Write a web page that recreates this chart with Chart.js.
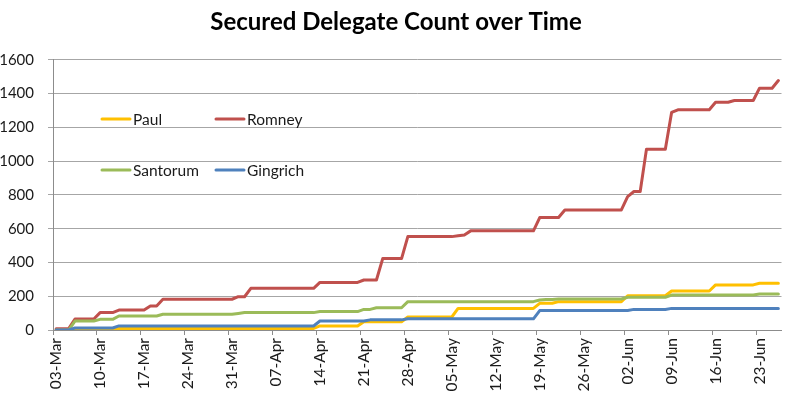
<!DOCTYPE html>
<html>
<head>
<meta charset="utf-8">
<script src="https://cdn.jsdelivr.net/npm/chart.js@4.4.1/dist/chart.umd.min.js"></script>
<style>
  html, body { margin: 0; padding: 0; background: #ffffff; }
  #wrap { width: 800px; height: 400px; }
</style>
</head>
<body>
<div id="wrap"><canvas id="c" width="800" height="400"></canvas></div>
<script>
// ---- DATA ----
const chartTitle = 'Secured Delegate Count over Time';

// Daily categories 03-Mar .. 26-Jun (one label per day)
const dates = [
  '03-Mar','04-Mar','05-Mar','06-Mar','07-Mar','08-Mar','09-Mar','10-Mar','11-Mar','12-Mar',
  '13-Mar','14-Mar','15-Mar','16-Mar','17-Mar','18-Mar','19-Mar','20-Mar','21-Mar','22-Mar',
  '23-Mar','24-Mar','25-Mar','26-Mar','27-Mar','28-Mar','29-Mar','30-Mar','31-Mar','01-Apr',
  '02-Apr','03-Apr','04-Apr','05-Apr','06-Apr','07-Apr','08-Apr','09-Apr','10-Apr','11-Apr',
  '12-Apr','13-Apr','14-Apr','15-Apr','16-Apr','17-Apr','18-Apr','19-Apr','20-Apr','21-Apr',
  '22-Apr','23-Apr','24-Apr','25-Apr','26-Apr','27-Apr','28-Apr','29-Apr','30-Apr','01-May',
  '02-May','03-May','04-May','05-May','06-May','07-May','08-May','09-May','10-May','11-May',
  '12-May','13-May','14-May','15-May','16-May','17-May','18-May','19-May','20-May','21-May',
  '22-May','23-May','24-May','25-May','26-May','27-May','28-May','29-May','30-May','31-May',
  '01-Jun','02-Jun','03-Jun','04-Jun','05-Jun','06-Jun','07-Jun','08-Jun','09-Jun','10-Jun',
  '11-Jun','12-Jun','13-Jun','14-Jun','15-Jun','16-Jun','17-Jun','18-Jun','19-Jun','20-Jun',
  '21-Jun','22-Jun','23-Jun','24-Jun','25-Jun','26-Jun'
];

const paul = [
  0,0,0,5,5,5,5,5,5,5,
  9,9,9,9,9,9,9,9,9,9,
  9,9,9,9,9,9,9,9,9,9,
  9,9,9,9,9,9,9,9,9,9,
  9,9,24,24,24,24,24,24,24,49,
  49,49,49,49,49,49,77,77,77,77,
  77,77,77,77,128,128,128,128,128,128,
  128,128,128,128,128,128,128,158,158,158,
  168,168,168,168,168,168,168,168,168,168,
  168,203,203,203,203,203,203,203,231,231,
  231,231,231,231,231,267,267,267,267,267,
  267,267,277,277,277,277
];

const romney = [
  8,8,8,65,65,65,65,103,103,103,
  118,118,118,118,118,142,142,182,182,182,
  182,182,182,182,182,182,182,182,182,197,
  197,247,247,247,247,247,247,247,247,247,
  247,247,282,282,282,282,282,282,282,296,
  296,296,423,423,423,423,553,553,553,553,
  553,553,553,553,558,563,587,587,587,587,
  587,587,587,587,587,587,587,666,666,666,
  666,711,711,711,711,711,711,711,711,711,
  711,790,820,820,1071,1071,1071,1071,1288,1304,
  1304,1304,1304,1304,1304,1349,1349,1349,1359,1359,
  1359,1359,1432,1432,1432,1477
];

const santorum = [
  0,0,0,53,53,53,53,63,63,63,
  83,83,83,83,83,83,83,93,93,93,
  93,93,93,93,93,93,93,93,93,98,
  103,103,103,103,103,103,103,103,103,103,
  103,103,109,109,109,109,109,109,109,122,
  122,132,132,132,132,132,168,168,168,168,
  168,168,168,168,168,168,168,168,168,168,
  168,168,168,168,168,168,168,178,181,181,
  184,184,184,184,184,184,184,184,184,184,
  184,194,194,194,194,194,194,194,207,207,
  207,207,207,207,207,207,207,207,207,207,
  207,207,213,213,213,213
];

const gingrich = [
  0,0,0,12,12,12,12,12,12,12,
  24,24,24,24,24,24,24,24,24,24,
  24,24,24,24,24,24,24,24,24,24,
  24,24,24,24,24,24,24,24,24,24,
  24,24,53,53,53,53,53,53,53,53,
  60,60,60,60,60,60,66,66,66,66,
  66,66,66,66,66,66,66,66,66,66,
  66,66,66,66,66,66,66,115,115,115,
  115,115,115,115,115,115,115,115,115,115,
  115,115,122,122,122,122,122,122,128,128,
  128,128,128,128,128,128,128,128,128,128,
  128,128,128,128,128,128
];

const yTicks = [0, 200, 400, 600, 800, 1000, 1200, 1400, 1600];
const labelEvery = 7;

// ---- STYLE ----
const FONT = 'Lato, "Open Sans", "DejaVu Sans", sans-serif';
const gridColor = '#a6a6a6';
const axisColor = '#8c8c8c';

// in-plot legend, 2 x 2 like the reference
const legendPlugin = {
  id: 'inPlotLegend',
  afterDatasetsDraw(chart) {
    const ctx = chart.ctx;
    const slots = [
      { lx: 102, y: 119 }, { lx: 216, y: 119 },
      { lx: 102, y: 170 }, { lx: 216, y: 170 }
    ];
    ctx.save();
    ctx.font = '15.5px ' + FONT;
    ctx.textBaseline = 'middle';
    ctx.textAlign = 'left';
    chart.data.datasets.forEach((ds, i) => {
      const s = slots[i];
      ctx.strokeStyle = ds.borderColor;
      ctx.lineWidth = 3;
      ctx.lineCap = 'round';
      ctx.beginPath();
      ctx.moveTo(s.lx, s.y);
      ctx.lineTo(s.lx + 28, s.y);
      ctx.stroke();
      ctx.fillStyle = '#1a1a1a';
      ctx.fillText(ds.label, s.lx + 31, s.y + 1);
    });
    ctx.restore();
  }
};

function mk(label, data, color, order) {
  return {
    label, data, borderColor: color, backgroundColor: color,
    borderWidth: 3, pointRadius: 0, pointHoverRadius: 0,
    tension: 0, fill: false, order,
    borderJoinStyle: 'round', borderCapStyle: 'round'
  };
}

new Chart(document.getElementById('c'), {
  type: 'line',
  data: {
    labels: dates,
    datasets: [
      mk('Paul', paul, '#FFC000', 3),
      mk('Romney', romney, '#C0504D', 2),
      mk('Santorum', santorum, '#9BBB59', 1),
      mk('Gingrich', gingrich, '#4F81BD', 0)
    ]
  },
  options: {
    responsive: false,
    animation: false,
    devicePixelRatio: 1,
    layout: { padding: { left: 0, right: 8, top: 0, bottom: 0 } },
    plugins: {
      legend: { display: false },
      tooltip: { enabled: false },
      title: {
        display: true,
        text: chartTitle,
        color: '#000000',
        font: { family: FONT, size: 24, weight: 'bold' },
        padding: { top: 8, bottom: 23 }
      }
    },
    scales: {
      x: {
        type: 'category',
        offset: true,
        afterFit(scale) { scale.height = 70; },
        grid: {
          offset: true,
          drawOnChartArea: false,
          drawTicks: true,
          tickLength: 5,
          color: (c) => (c.index % labelEvery === 0 ? axisColor : 'rgba(0,0,0,0)')
        },
        border: { display: true, color: axisColor, width: 1 },
        ticks: {
          autoSkip: false,
          maxRotation: 90,
          minRotation: 90,
          padding: 3,
          color: '#1a1a1a',
          font: { family: FONT, size: 15.5 },
          callback: (v, i) => (i % labelEvery === 0 ? dates[i] : '')
        }
      },
      y: {
        min: yTicks[0],
        max: yTicks[yTicks.length - 1],
        afterFit(scale) { scale.width = 53; },
        afterBuildTicks(scale) { scale.ticks = yTicks.map(v => ({ value: v })); },
        grid: { color: gridColor, lineWidth: 1, tickLength: 5, drawTicks: true },
        border: { display: true, color: axisColor, width: 1 },
        ticks: {
          padding: 14,
          color: '#1a1a1a',
          font: { family: FONT, size: 15 },
          callback: (v) => String(v)
        }
      }
    }
  },
  plugins: [legendPlugin]
});
</script>
</body>
</html>
